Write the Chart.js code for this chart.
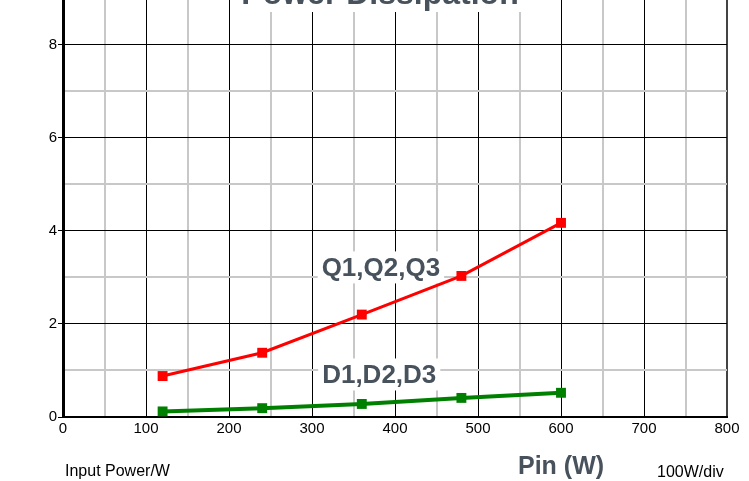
<!DOCTYPE html>
<html lang="en">
<head>
  <meta charset="UTF-8" />
  <title>Power Dissipation</title>
  <script src="https://cdn.jsdelivr.net/npm/chart.js"></script>
  <style>
    html, body {
      margin: 0;
      padding: 0;
      background: #fff;
      overflow: hidden;
      width: 749px;
      height: 481px;
    }
    #chart {
      position: absolute;
      left: 0;
      top: -12px;
    }
  </style>
</head>
<body>
  <canvas id="chart" width="749" height="493"></canvas>

  <script>
    // Data
    const pin = [120, 240, 360, 480, 600];
    const qLoss = [0.88, 1.38, 2.2, 3.03, 4.17];
    const dLoss = [0.12, 0.19, 0.28, 0.41, 0.52];

    const xTicks = [0, 100, 200, 300, 400, 500, 600, 700, 800];
    const yTicks = [0, 2, 4, 6, 8];

    const textGray = '#47525c';
    const font = 'Arial, "Liberation Sans", sans-serif';
    const OFF = 12; // canvas sits 12px above the page top

    const toPoints = (xs, ys) => xs.map((v, i) => ({ x: v, y: ys[i] }));

    // labels with white boxes, title and footer texts
    const textPlugin = {
      id: 'texts',
      beforeDatasetsDraw(chart) {
        const { ctx, scales: { x, y } } = chart;
        ctx.save();
        ctx.font = 'bold 26px ' + font;
        ctx.textAlign = 'center';
        ctx.textBaseline = 'alphabetic';
        const boxed = (txt, xv, yv) => {
          const px = x.getPixelForValue(xv);
          const py = y.getPixelForValue(yv);
          const w = ctx.measureText(txt).width;
          ctx.fillStyle = '#fff';
          ctx.fillRect(px - w / 2 - 4, py - 25, w + 8, 32);
          ctx.fillStyle = textGray;
          ctx.fillText(txt, px, py);
        };
        boxed('Q1,Q2,Q3', 383, 3.02);
        boxed('D1,D2,D3', 381, 0.72);
        ctx.restore();
      },
      afterDraw(chart) {
        const { ctx } = chart;
        ctx.save();
        // title, cut by the top edge
        ctx.fillStyle = '#fff';
        ctx.fillRect(232, 0, 298, OFF + 12);
        ctx.fillStyle = textGray;
        ctx.font = 'bold 32px ' + font;
        ctx.textAlign = 'center';
        ctx.fillText('Power Dissipation', 380, OFF + 4);

        ctx.textAlign = 'left';
        ctx.fillStyle = '#000';
        ctx.font = '16px ' + font;
        ctx.fillText('Input Power/W', 65, OFF + 476);
        ctx.fillText('100W/div', 657, OFF + 477);

        ctx.fillStyle = textGray;
        ctx.font = 'bold 25px ' + font;
        ctx.fillText('Pin (W)', 518, OFF + 474);
        ctx.restore();
      }
    };

    new Chart(document.getElementById('chart'), {
      type: 'line',
      data: {
        datasets: [
          {
            label: 'Q1,Q2,Q3',
            data: toPoints(pin, qLoss),
            borderColor: '#ff0000',
            backgroundColor: '#ff0000',
            borderWidth: 3,
            pointStyle: 'rect',
            pointRadius: 7,
            pointBorderWidth: 0
          },
          {
            label: 'D1,D2,D3',
            data: toPoints(pin, dLoss),
            borderColor: '#008000',
            backgroundColor: '#008000',
            borderWidth: 4,
            pointStyle: 'rect',
            pointRadius: 7,
            pointBorderWidth: 0
          }
        ]
      },
      options: {
        responsive: false,
        animation: false,
        layout: { autoPadding: false, padding: { left: 0, right: 22, top: 0, bottom: 0 } },
        plugins: {
          legend: { display: false },
          tooltip: { enabled: false }
        },
        scales: {
          x: {
            type: 'linear',
            min: 0,
            max: 800,
            afterFit: s => { s.height = 64; },
            ticks: {
              stepSize: 50,
              autoSkip: false,
              maxRotation: 0,
              padding: 3,
              color: '#000',
              font: { family: font, size: 15 },
              callback: v => xTicks.includes(v) ? v : ''
            },
            grid: {
              color: c => c.tick.value === 800 ? '#444' : (c.tick.value % 100 === 0 ? '#000' : '#c8c8c8'),
              lineWidth: c => c.tick.value % 100 === 0 && c.tick.value !== 800 ? 1 : 2,
              drawTicks: false
            },
            border: { color: '#000', width: 2 }
          },
          y: {
            min: 0,
            max: 9,
            afterFit: s => { s.width = 63; },
            ticks: {
              stepSize: 1,
              autoSkip: false,
              padding: 1,
              color: '#000',
              font: { family: font, size: 15 },
              callback: v => yTicks.includes(v) ? v : ''
            },
            grid: {
              color: c => c.tick.value % 2 === 0 ? '#000' : '#c8c8c8',
              lineWidth: c => c.tick.value % 2 === 0 ? 1 : 2,
              tickColor: c => yTicks.includes(c.tick.value) ? '#000' : 'rgba(0,0,0,0)',
              tickLength: 5,
              tickWidth: 1
            },
            border: { color: '#000', width: 3 }
          }
        }
      },
      plugins: [textPlugin]
    });
  </script>
</body>
</html>
